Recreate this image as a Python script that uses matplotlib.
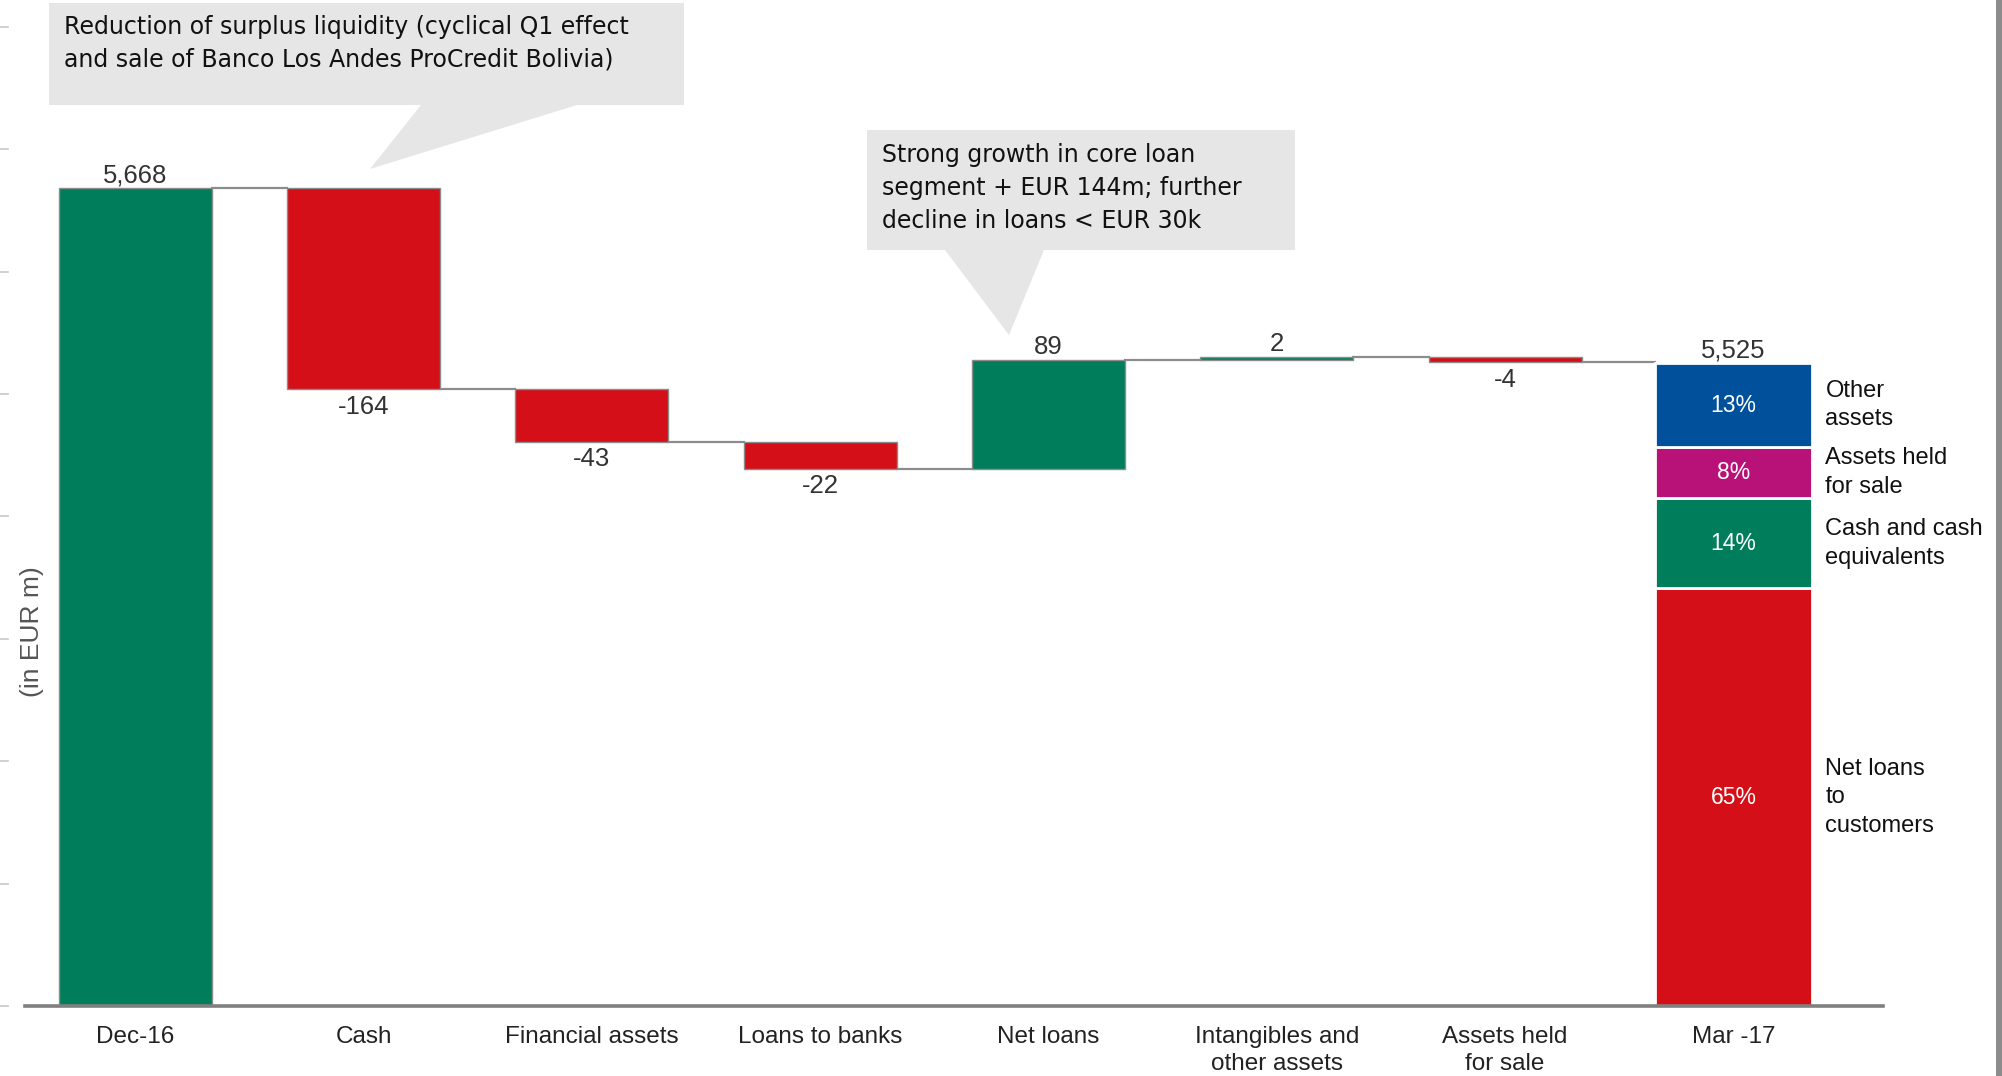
import matplotlib
matplotlib.use('Agg')
import matplotlib.pyplot as plt
from matplotlib.patches import Polygon, Rectangle
from matplotlib import transforms
import numpy as np

plt.rcParams['font.family'] = ['Liberation Sans', 'DejaVu Sans']

# waterfall of total assets, EUR m
categories = ['Dec-16', 'Cash', 'Financial assets', 'Loans to banks', 'Net loans',
              'Intangibles and\nother assets', 'Assets held\nfor sale', 'Mar -17']
start_value = 5668
deltas = [-164, -43, -22, 89, 2, -4]
end_value = 5525

# structure of total assets at Mar-17, bottom to top
mix_names = ['Net loans\nto\ncustomers', 'Cash and cash\nequivalents', 'Assets held\nfor sale', 'Other\nassets']
mix_share = [65, 14, 8, 13]

note_left = 'Reduction of surplus liquidity (cyclical Q1 effect\nand sale of Banco Los Andes ProCredit Bolivia)'
note_right = 'Strong growth in core loan\nsegment + EUR 144m; further\ndecline in loans < EUR 30k'

GREEN = '#007e5b'
RED = '#d50f18'
BLUE = '#00509b'
MAGENTA = '#b81279'
EDGE = '#8c8c8c'
mix_colors = [RED, GREEN, MAGENTA, BLUE]

ybase = 5000
ytop = 5822

W, H = 2002, 1076
fig = plt.figure(figsize=(W / 100, H / 100), dpi=100)
ax = fig.add_axes([25.5 / W, 1 - 1006 / H, 1857.5 / W, 1006 / H])
ax.set_xlim(-0.481, 7.655)
ax.set_ylim(ybase, ytop)

bw = 0.67
x = np.arange(len(categories))

def value_label(xx, yy, txt, up):
    ax.annotate(txt, (xx, yy), xytext=(0, 9.5 if up else -12.5), textcoords='offset points',
                ha='center', va='center', fontsize=18.5, color='#333333')

# opening bar
ax.bar(0, start_value - ybase, bottom=ybase, width=bw, color=GREEN, edgecolor=EDGE, lw=1, zorder=2)
value_label(0, start_value, f'{start_value:,}', True)

level = start_value
for i, d in enumerate(deltas, start=1):
    # connector from previous bar
    ax.plot([i - 1 + bw / 2, i - bw / 2], [level, level], color=EDGE, lw=1.6, zorder=1)
    lo = level if d > 0 else level + d
    ax.bar(i, abs(d), bottom=lo, width=bw, color=GREEN if d > 0 else RED,
           edgecolor=EDGE, lw=1, zorder=2)
    level += d
    value_label(i, level, f'{d}', d > 0)

ax.plot([len(deltas) + bw / 2, len(deltas) + 1 - 0.69 / 2], [level, level], color=EDGE, lw=1.6, zorder=1)

# closing bar split into its structure
seg_h = np.array(mix_share) / 100 * (end_value - ybase)
bottoms = ybase + np.concatenate([[0], np.cumsum(seg_h)[:-1]])
xe = x[-1]
ax.bar(xe, seg_h, bottom=bottoms, width=0.69, color=mix_colors, edgecolor='white', lw=2, zorder=2)
value_label(xe, end_value, f'{end_value:,}', True)
for b, h, s, name in zip(bottoms, seg_h, mix_share, mix_names):
    ax.text(xe, b + h / 2, f'{s}%', ha='center', va='center', color='white', fontsize=16.5)
    ax.text(xe + 0.69 / 2 + 0.058, b + h / 2, name, ha='left', va='center', color='#111111',
            fontsize=17, linespacing=1.38)

for s in ['top', 'right', 'left']:
    ax.spines[s].set_visible(False)
ax.spines['bottom'].set_color('#808080')
ax.spines['bottom'].set_linewidth(2.6)
ax.spines['bottom'].set_zorder(3)
ax.set_yticks([])
ax.set_xticks(x)
ax.set_xticklabels(categories, fontsize=17.5, color='#222222')
ax.tick_params(axis='x', length=0, pad=14.5)
for lbl in ax.get_xticklabels():
    lbl.set_linespacing(1.28)

# faint scale marks at the far left
trans = transforms.blended_transform_factory(fig.transFigure, ax.transData)
for v in np.arange(ybase, ytop, 100):
    ax.plot([0, 8 / W], [v, v], transform=trans, color='#c8c8c8', lw=1.2, clip_on=False)

fig.text(32 / W, 1 - 632 / H, '(in EUR m)', rotation=90, ha='center', va='center',
         color='#555555', fontsize=19)

# callout boxes (pixel outlines)
def px(pts):
    return [(a / W, 1 - b / H) for a, b in pts]

box1 = [(49, 3), (684, 3), (684, 105), (577, 105), (370, 169), (421, 105), (49, 105)]
box2 = [(867, 130), (1295, 130), (1295, 250), (1044, 250), (1009, 335), (945, 250), (867, 250)]
for bx in (box1, box2):
    fig.patches.append(Polygon(px(bx), closed=True, transform=fig.transFigure,
                               facecolor='#e6e6e6', edgecolor='none', zorder=5))

fig.text(64 / W, 1 - 43 / H, note_left, ha='left', va='center', fontsize=17,
         family='DejaVu Sans', color='#111111', linespacing=1.45, zorder=6)
fig.text(882 / W, 1 - 188 / H, note_right, ha='left', va='center', fontsize=17,
         family='DejaVu Sans', color='#111111', linespacing=1.45, zorder=6)

# grey border on the right edge
fig.patches.append(Rectangle((1996 / W, 0), 6 / W, 1, transform=fig.transFigure,
                             facecolor='#8c8c8c', edgecolor='none'))

fig.savefig('out.png', dpi=100)
